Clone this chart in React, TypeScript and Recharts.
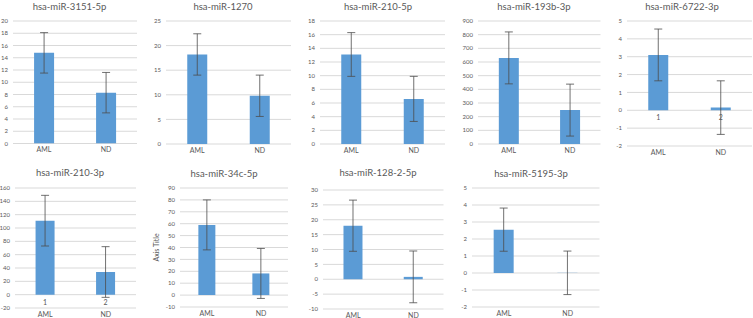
import { BarChart, Bar, XAxis, YAxis, CartesianGrid, ErrorBar, LabelList } from 'recharts';

const groups = ['AML', 'ND'];
const groupIndex = ['1', '2'];

const mirnas = [
  'hsa-miR-3151-5p',
  'hsa-miR-1270',
  'hsa-miR-210-5p',
  'hsa-miR-193b-3p',
  'hsa-miR-6722-3p',
  'hsa-miR-210-3p',
  'hsa-miR-34c-5p',
  'hsa-miR-128-2-5p',
  'hsa-miR-5195-3p',
];

const amlMeans = [14.8, 18.2, 13.1, 630, 3.1, 111, 59, 18, 2.55];
const ndMeans = [8.3, 9.8, 6.6, 248, 0.15, 34, 18.2, 0.8, 0.01];
const amlErrors = [3.3, 4.2, 3.2, 190, 1.45, 38, 21, 8.6, 1.27];
const ndErrors = [3.3, 4.2, 3.3, 190, 1.5, 38, 21, 8.7, 1.28];

const yTicks: number[][] = [
  [0, 2, 4, 6, 8, 10, 12, 14, 16, 18, 20],
  [0, 5, 10, 15, 20, 25],
  [0, 2, 4, 6, 8, 10, 12, 14, 16, 18],
  [0, 100, 200, 300, 400, 500, 600, 700, 800, 900],
  [-2, -1, 0, 1, 2, 3, 4, 5],
  [-20, 0, 20, 40, 60, 80, 100, 120, 140, 160],
  [-10, 0, 10, 20, 30, 40, 50, 60, 70, 80, 90],
  [-10, -5, 0, 5, 10, 15, 20, 25, 30],
  [-2, -1, 0, 1, 2, 3, 4, 5],
];

// panels that also print the category number under the bars
const showIndex = [false, false, false, false, true, true, false, false, false];
const axisTitles = ['', '', '', '', '', '', 'Axis Title', '', ''];

// plot area [left, top, right, bottom] in page pixels, and title centre
const plotBoxes = [
  [12.5, 21, 136.5, 143.5],
  [166, 21, 291, 144],
  [320, 21, 445, 144],
  [477.5, 21, 600, 144],
  [627, 21, 752, 146],
  [15, 188, 136, 308],
  [180, 188, 288, 307],
  [323, 190, 443.5, 309],
  [472, 188, 599.5, 307],
];
const titlePos = [
  [69.5, 7],
  [223, 7],
  [378, 7],
  [534, 6.5],
  [682, 6.5],
  [70, 173],
  [224, 174],
  [378, 173],
  [531, 174],
];

const PAD_L = 40;
const PAD_T = 4;
const PAD_R = 4;
const PAD_B = 20;
const X_H = 14;
const TEXT = '#595959';

function Panel({ i }: { i: number }) {
  const [l, t, r, b] = plotBoxes[i];
  const width = r - l + PAD_L + PAD_R;
  const height = b - t + PAD_T + PAD_B;
  const ticks = yTicks[i];
  const data = groups.map((g, k) => ({
    name: g,
    idx: groupIndex[k],
    mean: k === 0 ? amlMeans[i] : ndMeans[i],
    err: k === 0 ? amlErrors[i] : ndErrors[i],
  }));

  return (
    <>
      <div
        style={{
          position: 'absolute',
          left: titlePos[i][0] - 70,
          width: 140,
          top: titlePos[i][1] - 7,
          lineHeight: '14px',
          textAlign: 'center',
          fontSize: 9.5,
          color: TEXT,
          whiteSpace: 'nowrap',
        }}
      >
        {mirnas[i]}
      </div>
      <div style={{ position: 'absolute', left: l - PAD_L, top: t - PAD_T }}>
        <BarChart
          width={width}
          height={height}
          data={data}
          margin={{ top: PAD_T, right: PAD_R, left: 0, bottom: PAD_B - X_H }}
          barCategoryGap="34%"
        >
          <CartesianGrid vertical={false} stroke="#d9d9d9" />
          <XAxis
            dataKey="name"
            axisLine={false}
            tickLine={false}
            tickSize={2}
            tickMargin={2}
            height={X_H}
            interval={0}
            tick={{ fontSize: 7, fill: TEXT }}
          />
          <YAxis
            width={PAD_L}
            domain={[ticks[0], ticks[ticks.length - 1]]}
            ticks={ticks}
            interval={0}
            allowDataOverflow
            axisLine={false}
            tickLine={false}
            tickSize={3}
            tickMargin={2}
            tick={{ fontSize: 6, fill: TEXT }}
            label={
              axisTitles[i]
                ? {
                    value: axisTitles[i],
                    angle: -90,
                    position: 'insideLeft',
                    offset: 17,
                    style: { textAnchor: 'middle', fontSize: 7, fill: TEXT },
                  }
                : undefined
            }
          />
          <Bar dataKey="mean" fill="#5b9bd5" isAnimationActive={false}>
            <ErrorBar dataKey="err" width={4} stroke="#4d4d4d" strokeWidth={0.8} />
            {showIndex[i] && (
              <LabelList dataKey="idx" position="bottom" offset={5} fontSize={7} fill={TEXT} />
            )}
          </Bar>
        </BarChart>
      </div>
    </>
  );
}

export default function App() {
  return (
    <div
      style={{
        position: 'fixed',
        left: 0,
        top: 0,
        width: 753,
        height: 318,
        background: '#fff',
        overflow: 'hidden',
        fontFamily: 'Lato, "Open Sans", sans-serif',
      }}
    >
      {mirnas.map((_, i) => (
        <Panel key={i} i={i} />
      ))}
    </div>
  );
}
